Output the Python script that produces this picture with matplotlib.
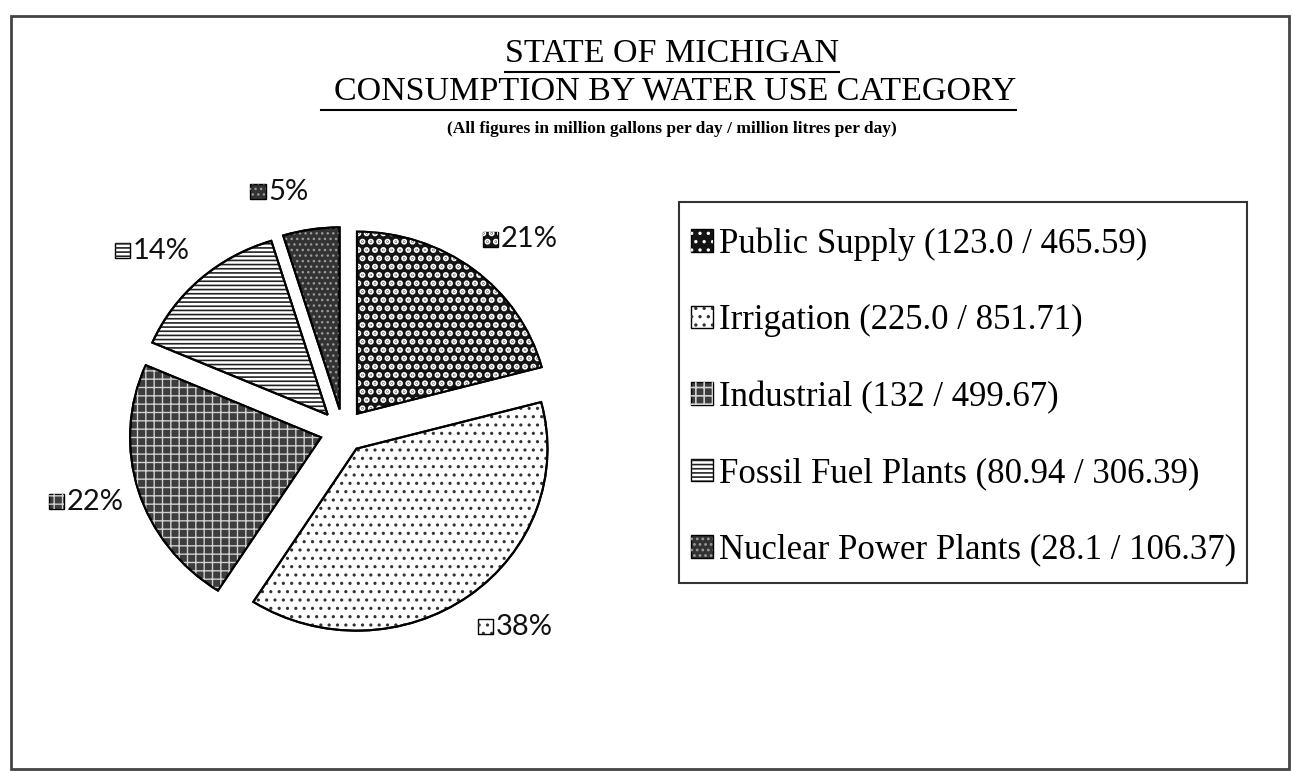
import matplotlib
matplotlib.use('Agg')
import matplotlib.pyplot as plt
from matplotlib.patches import Wedge, Rectangle
from matplotlib.lines import Line2D
from matplotlib.offsetbox import DrawingArea, TextArea, HPacker, AnnotationBbox
import numpy as np

# data (million gallons / million litres per day)
categories = ['Public Supply', 'Irrigation', 'Industrial', 'Fossil Fuel Plants', 'Nuclear Power Plants']
gallons = [123.0, 225.0, 132, 80.94, 28.1]
gallons_txt = ['123.0', '225.0', '132', '80.94', '28.1']
litres_txt = ['465.59', '851.71', '499.67', '306.39', '106.37']

# fill styles (base colour, hatch, hatch colour, hatch width)
base_colors = ['#141414', '#ffffff', '#3d3d3d', '#ffffff', '#333333']
hatches = ['..', '..', '++', '----', '...']
hatch_colors = ['#ffffff', '#333333', '#d0d0d0', '#222222', '#9a9a9a']
hatch_widths = [3.0, 1.1, 1.0, 1.2, 1.0]

W, H = 1293, 771
plt.rcParams['hatch.linewidth'] = 1.2
serif = 'Liberation Serif'

fig = plt.figure(figsize=(W / 100, H / 100), dpi=100)


def fx(px):
    return px / W


def fy(py):
    return 1 - py / H


def set_hw(p, lw):
    if hasattr(p, 'set_hatch_linewidth'):
        p.set_hatch_linewidth(lw)


# outer frame
fig.add_artist(Rectangle((fx(11), fy(769)), fx(1289) - fx(11), fy(16) - fy(769),
                         transform=fig.transFigure, fill=False,
                         edgecolor='#444444', linewidth=2))

# pie (slightly wider than tall, like the scan)
rx, ry, cx, cy, lim = 191, 182, 343, 431, 1.4
ax = fig.add_axes([fx(cx - lim * rx), fy(cy + lim * ry), 2 * lim * rx / W, 2 * lim * ry / H])
wedges, _ = ax.pie(gallons, startangle=90, counterclock=False, explode=[0.12] * 5,
                   colors=base_colors, wedgeprops=dict(edgecolor='black', linewidth=1.5))
ax.set_aspect('auto')
ax.set_xlim(-lim, lim)
ax.set_ylim(-lim, lim)
ax.axis('off')

for w, h, hc, hw in zip(wedges, hatches, hatch_colors, hatch_widths):
    ov = Wedge(w.center, w.r, w.theta1, w.theta2, facecolor='none', edgecolor=hc,
               hatch=h, linewidth=0, zorder=3)
    set_hw(ov, hw)
    ax.add_patch(ov)
    ax.add_patch(Wedge(w.center, w.r, w.theta1, w.theta2, fill=False,
                       edgecolor='black', linewidth=1.5, zorder=4))


def icon(size, fc, h, hc, hw):
    da = DrawingArea(size, size, 0, 0)
    da.add_artist(Rectangle((0, 0), size, size, facecolor=fc, edgecolor='black', linewidth=1))
    ov = Rectangle((0, 0), size, size, facecolor='none', edgecolor=hc, hatch=h, linewidth=0)
    set_hw(ov, hw)
    da.add_artist(ov)
    return da


# percentage labels with small pattern boxes
total = sum(gallons)
for w, g, fc, h, hc, hw in zip(wedges, gallons, base_colors, hatches, hatch_colors, hatch_widths):
    ang = np.deg2rad((w.theta1 + w.theta2) / 2)
    x, y = 1.2 * np.cos(ang), 1.33 * np.sin(ang)
    pack = HPacker(children=[icon(11, fc, h, hc, hw),
                             TextArea(f'{round(g / total * 100)}%',
                                      textprops=dict(fontsize=21, family='Lato', color='#111111'))],
                   align='center', pad=0, sep=2)
    ab = AnnotationBbox(pack, (x, y), xycoords='data', frameon=False, pad=0,
                        box_alignment=(0 if x > 0 else 1, 0.5))
    ax.add_artist(ab)

# legend
handles = []
for fc, h, hc, hw in zip(base_colors, hatches, hatch_colors, hatch_widths):
    ov = Rectangle((0, 0), 1, 1, facecolor='none', edgecolor=hc, hatch=h, linewidth=0)
    set_hw(ov, hw)
    handles.append((Rectangle((0, 0), 1, 1, facecolor=fc, edgecolor='black', linewidth=1), ov))
labels = [f'{c} ({g} / {l})' for c, g, l in zip(categories, gallons_txt, litres_txt)]
fig.legend(handles, labels, loc='center left', bbox_to_anchor=(fx(691), fy(397)),
           frameon=False, prop=dict(family=serif, size=25), handlelength=0.62,
           handleheight=0.62, handletextpad=0.18, labelspacing=1.25,
           borderpad=0, borderaxespad=0)
fig.add_artist(Rectangle((fx(679), fy(583)), fx(1247) - fx(679), fy(202) - fy(583),
                         transform=fig.transFigure, fill=False,
                         edgecolor='#333333', linewidth=1.5))

# titles
t1 = fig.text(fx(672), fy(62), 'STATE OF MICHIGAN', ha='center', va='baseline',
              fontsize=24.5, family=serif)
t2 = fig.text(fx(675), fy(100), 'CONSUMPTION BY WATER USE CATEGORY', ha='center',
              va='baseline', fontsize=24.5, family=serif)
fig.text(fx(672), fy(133), '(All figures in million gallons per day / million litres per day)',
         ha='center', va='baseline', fontsize=12.5, family=serif, fontweight='bold')

fig.canvas.draw()
r = fig.canvas.get_renderer()
for t, extra in [(t1, 0), (t2, 13)]:
    bb = t.get_window_extent(r)
    yy = bb.y0 - 3
    fig.add_artist(Line2D([(bb.x0 - extra) / W, bb.x1 / W], [yy / H, yy / H],
                          transform=fig.transFigure, color='black', linewidth=1.5))

fig.savefig('out.png', dpi=100)
